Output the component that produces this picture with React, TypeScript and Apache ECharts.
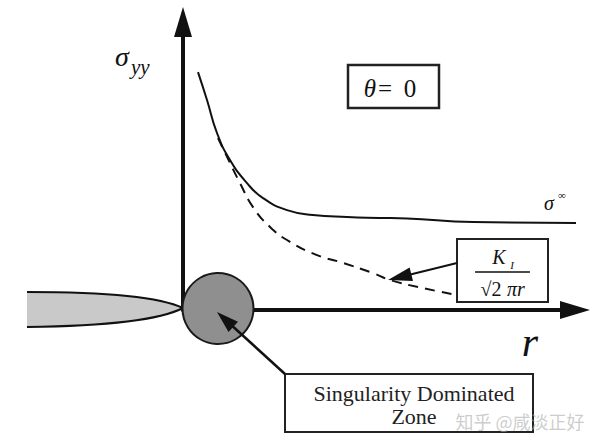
import React, { useEffect, useRef } from "react";
import * as echarts from "echarts";

// Full-field stress curve sigma_yy(r) (solid)
const solidR = [3.75, 6, 8.5, 11.75, 16, 20, 26, 32.5, 41, 49, 56, 72.5, 100.5];
const solidSigma = [79.3, 70, 59, 50, 42.3, 37.3, 33.3, 31.7, 31, 30.7, 30.5, 29.3, 29];
// Singular term K_I / sqrt(2 pi r) (dashed)
const dashR = [8.75, 11.75, 14.25, 17.5, 21.75, 26.75, 33.5, 39.25, 47.5, 51.75, 60, 68.5];
const dashSigma = [57.3, 49, 42.3, 34.3, 27.7, 22.7, 18.3, 16, 12.3, 10, 7.3, 5];
// Singularity dominated zone centre (r, sigma)
const zoneCenter = [[8.75, 0.5]];

const SERIF = "Liberation Serif";
const INK = "#111";

echarts.graphic.registerShape(
  "crack",
  echarts.graphic.extendPath("M27,292 C110,292 160,297 183,308 C160,320 110,326 27,327 Z", {})
);

function txt(text: string, x: number, y: number, size: number, italic: boolean, extra: any = {}) {
  return {
    type: "text",
    z: 11,
    style: {
      text,
      x,
      y,
      fontFamily: SERIF,
      fontSize: size,
      fontStyle: italic ? "italic" : "normal",
      fill: INK,
      textVerticalAlign: "middle",
      ...extra,
    },
  };
}

function arrowEls(x1: number, y1: number, x2: number, y2: number, len: number, halfW: number, lw: number, z: number) {
  const dx = x2 - x1;
  const dy = y2 - y1;
  const L = Math.hypot(dx, dy);
  const ux = dx / L;
  const uy = dy / L;
  const bx = x2 - ux * len;
  const by = y2 - uy * len;
  const px = -uy;
  const py = ux;
  return [
    { type: "line", z, shape: { x1, y1, x2: bx + ux * 2, y2: by + uy * 2 }, style: { stroke: INK, lineWidth: lw } },
    {
      type: "polygon",
      z,
      shape: { points: [[x2, y2], [bx + px * halfW, by + py * halfW], [bx - px * halfW, by - py * halfW]] },
      style: { fill: INK },
    },
  ];
}

export default function App() {
  const ref = useRef<HTMLDivElement>(null);
  useEffect(() => {
    if (!ref.current) return;
    const chart = echarts.init(ref.current, undefined, { renderer: "svg" });
    const axisCommon = {
      type: "value",
      splitLine: { show: false },
      axisTick: { show: false },
      axisLabel: { show: false },
    };
    chart.setOption({
      animation: false,
      backgroundColor: "#fff",
      grid: { left: 183, right: 25, top: 22, bottom: 137 },
      xAxis: {
        ...axisCommon,
        min: 0,
        max: 98,
        axisLine: {
          show: true,
          onZero: false,
          symbol: ["none", "triangle"],
          symbolSize: [18, 30],
          lineStyle: { color: INK, width: 4 },
        },
      },
      yAxis: {
        ...axisCommon,
        min: 0,
        max: 96,
        axisLine: {
          show: true,
          onZero: false,
          symbol: ["none", "triangle"],
          symbolSize: [18, 30],
          lineStyle: { color: INK, width: 4 },
        },
      },
      series: [
        {
          type: "line",
          data: solidR.map((r, i) => [r, solidSigma[i]]),
          smooth: true,
          showSymbol: false,
          clip: false,
          lineStyle: { color: INK, width: 2 },
          z: 3,
        },
        {
          type: "line",
          data: dashR.map((r, i) => [r, dashSigma[i]]),
          smooth: true,
          showSymbol: false,
          clip: false,
          lineStyle: { color: INK, width: 2, type: [10, 7] },
          z: 3,
        },
        {
          type: "scatter",
          data: zoneCenter,
          symbolSize: 71,
          clip: false,
          itemStyle: { color: "#8f8f8f", borderColor: "#1a1a1a", borderWidth: 2, opacity: 1 },
          z: 4,
        },
      ],
      graphic: [
        { type: "crack", z: 1, x: 0, y: 0, style: { fill: "#c9c9c9" } },
        { type: "bezierCurve", z: 1, shape: { x1: 27, y1: 292, cpx1: 110, cpy1: 292, cpx2: 160, cpy2: 297, x2: 183, y2: 308 }, style: { stroke: INK, lineWidth: 2, fill: null } },
        { type: "bezierCurve", z: 1, shape: { x1: 27, y1: 327, cpx1: 110, cpy1: 326, cpx2: 160, cpy2: 320, x2: 183, y2: 308 }, style: { stroke: INK, lineWidth: 2, fill: null } },
        // sigma_yy label
        txt("σ", 115, 56, 28, true),
        txt("yy", 131, 67, 21, true),
        // theta box
        { type: "rect", z: 10, shape: { x: 348, y: 65, width: 91, height: 43 }, style: { fill: "#fff", stroke: "#222", lineWidth: 2.5 } },
        txt("θ", 370, 88, 25, true, { textAlign: "center" }),
        txt("=", 385, 88, 25, false, { textAlign: "center" }),
        txt("0", 410, 88, 25, false, { textAlign: "center" }),
        // sigma infinity
        txt("σ", 544, 203, 20, true),
        txt("∞", 558, 195, 11, false),
        // K box
        { type: "rect", z: 10, shape: { x: 457, y: 239, width: 91, height: 63 }, style: { fill: "#fff", stroke: "#222", lineWidth: 2 } },
        txt("K", 499, 257, 20, true, { textAlign: "center" }),
        txt("I", 512, 265, 11, true, { textAlign: "center" }),
        { type: "line", z: 11, shape: { x1: 475, y1: 272, x2: 530, y2: 272 }, style: { stroke: INK, lineWidth: 1.5 } },
        txt("√2", 491, 289, 20, false, { textAlign: "center" }),
        txt("πr", 516, 289, 20, true, { textAlign: "center" }),
        ...arrowEls(457, 263, 388, 280, 24, 7, 2, 12),
        // r label
        txt("r", 530, 342, 42, true, { textAlign: "center" }),
        // Singularity box
        { type: "rect", z: 10, shape: { x: 285, y: 374, width: 248, height: 58 }, style: { fill: "#fff", stroke: "#222", lineWidth: 2 } },
        txt("Singularity Dominated", 414, 393, 22, false, { textAlign: "center", fill: "#222" }),
        txt("Zone", 414, 416, 22, false, { textAlign: "center", fill: "#222" }),
        ...arrowEls(285, 374, 217, 312, 22, 7, 2.5, 12),
        // watermark
        { type: "text", z: 20, style: { text: "知乎 @咸淡正好", x: 520, y: 421, fontFamily: "Noto Sans CJK SC", fontSize: 18, fill: "rgba(170,170,170,0.6)", textAlign: "center", textVerticalAlign: "middle" } },
      ],
    });
    return () => chart.dispose();
  }, []);
  return <div ref={ref} style={{ width: 600, height: 447, position: "fixed", left: 0, top: 0 }} />;
}
